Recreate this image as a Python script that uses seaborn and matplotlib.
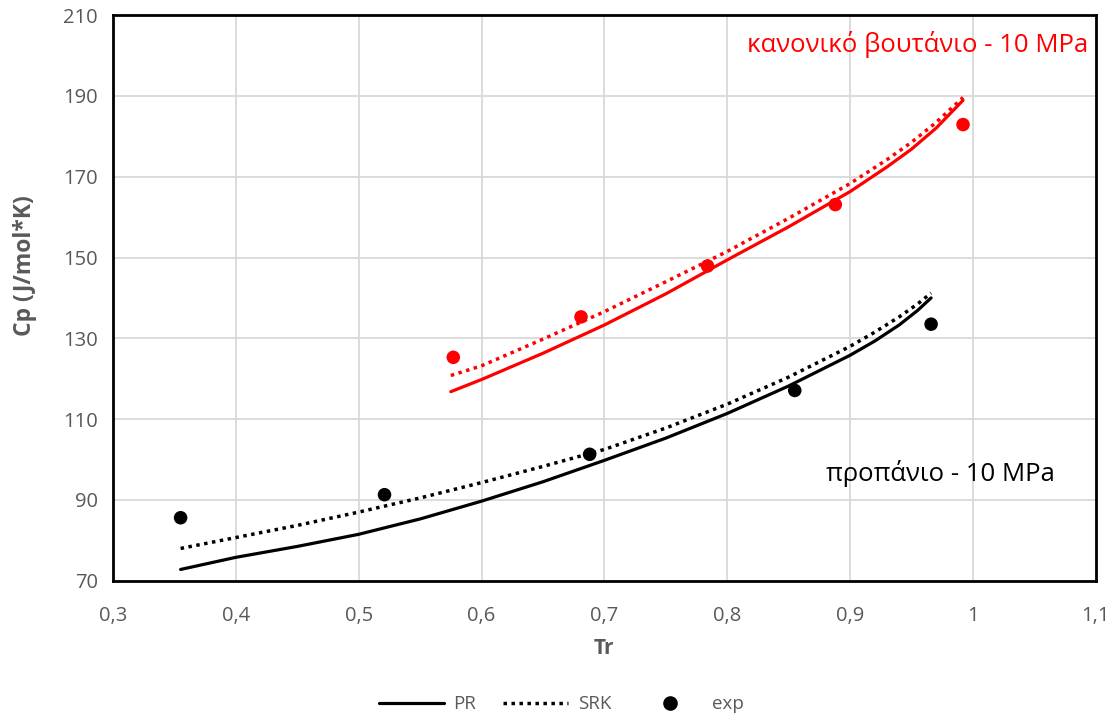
import pandas as pd
import matplotlib.pyplot as plt
import seaborn as sns
from matplotlib.lines import Line2D
from matplotlib.ticker import FuncFormatter

# προπάνιο - 10 MPa
tr_c3_model = [0.355, 0.4, 0.45, 0.5, 0.55, 0.6, 0.65, 0.7, 0.75, 0.8, 0.85, 0.9, 0.92, 0.94, 0.955, 0.966]
cp_c3_pr = [72.8, 75.8, 78.5, 81.5, 85.3, 89.7, 94.5, 99.8, 105.3, 111.4, 118.2, 125.8, 129.3, 133.3, 136.9, 140.0]
cp_c3_srk = [78.0, 80.7, 83.7, 87.0, 90.5, 94.3, 98.3, 102.5, 107.8, 113.7, 120.4, 128.0, 131.5, 135.3, 138.5, 141.2]
tr_c3_exp = [0.355, 0.521, 0.688, 0.855, 0.966]
cp_c3_exp = [85.6, 91.3, 101.3, 117.1, 133.5]

# κανονικό βουτάνιο - 10 MPa
tr_c4_model = [0.575, 0.6, 0.65, 0.7, 0.75, 0.8, 0.85, 0.9, 0.93, 0.95, 0.97, 0.992]
cp_c4_pr = [116.8, 119.8, 126.3, 133.3, 141.0, 149.4, 157.6, 166.3, 172.4, 176.8, 182.0, 188.9]
cp_c4_srk = [120.8, 123.2, 129.8, 136.6, 144.0, 151.5, 159.7, 168.3, 174.2, 178.5, 183.4, 189.6]
tr_c4_exp = [0.577, 0.681, 0.784, 0.888, 0.992]
cp_c4_exp = [125.3, 135.3, 147.9, 163.1, 182.9]

x_ticks = [0.3, 0.4, 0.5, 0.6, 0.7, 0.8, 0.9, 1.0, 1.1]
y_ticks = [70, 90, 110, 130, 150, 170, 190, 210]

sns.set_style('white')
plt.rcParams['font.family'] = ['Open Sans', 'DejaVu Sans']
grey = '#595959'
dots = (0, (1, 1.3))

fig = plt.figure(figsize=(11.16, 7.17), dpi=100)
ax = fig.add_axes([0.1013, 0.19, 0.8805, 0.789])

for tr, pr, srk, col in [(tr_c3_model, cp_c3_pr, cp_c3_srk, 'black'),
                         (tr_c4_model, cp_c4_pr, cp_c4_srk, 'red')]:
    sns.lineplot(x=tr, y=pr, ax=ax, color=col, lw=2.3, sort=False, estimator=None)
    sns.lineplot(x=tr, y=srk, ax=ax, color=col, lw=2.5, linestyle=dots,
                 sort=False, estimator=None)

sns.scatterplot(x=tr_c3_exp, y=cp_c3_exp, ax=ax, color='black', s=95, edgecolor='none', zorder=5)
sns.scatterplot(x=tr_c4_exp, y=cp_c4_exp, ax=ax, color='red', s=95, edgecolor='none', zorder=5)

ax.set_xlim(0.3, 1.1)
ax.set_ylim(70, 210)
ax.set_xticks(x_ticks)
ax.set_yticks(y_ticks)
ax.xaxis.set_major_formatter(FuncFormatter(lambda v, p: ('%g' % round(v, 2)).replace('.', ',')))
ax.grid(True, color='#d9d9d9', lw=1.3)
ax.set_axisbelow(True)
for sp in ax.spines.values():
    sp.set_color('black')
    sp.set_linewidth(2)
ax.tick_params(axis='both', labelsize=14.5, colors=grey, length=0)
ax.tick_params(axis='x', pad=18)
ax.tick_params(axis='y', pad=11)

ax.set_xlabel('Tr', fontsize=15, fontweight='bold', color=grey)
ax.set_ylabel('Cp (J/mol*K)', fontsize=16.5, fontweight='bold', color=grey)
ax.xaxis.set_label_coords(0.5, -0.102)
ax.yaxis.set_label_coords(-0.077, 0.557)

ax.text(1.094, 202.7, 'κανονικό βουτάνιο - 10 MPa', color='red', fontsize=18.5,
        ha='right', va='center')
ax.text(1.067, 96.5, 'προπάνιο - 10 MPa', color='black', fontsize=18.5,
        ha='right', va='center')

handles = [Line2D([], [], color='black', lw=2.3),
           Line2D([], [], color='black', lw=2.5, linestyle=dots),
           Line2D([], [], color='black', marker='o', markersize=9.5, linestyle='none')]
fig.legend(handles, ['PR', 'SRK', 'exp'], loc='center', bbox_to_anchor=(0.503, 0.018),
           ncol=3, frameon=False, fontsize=13.5, labelcolor=grey, handlelength=3.5,
           handletextpad=0.5, columnspacing=1.4)

fig.savefig('out.png', dpi=100)
